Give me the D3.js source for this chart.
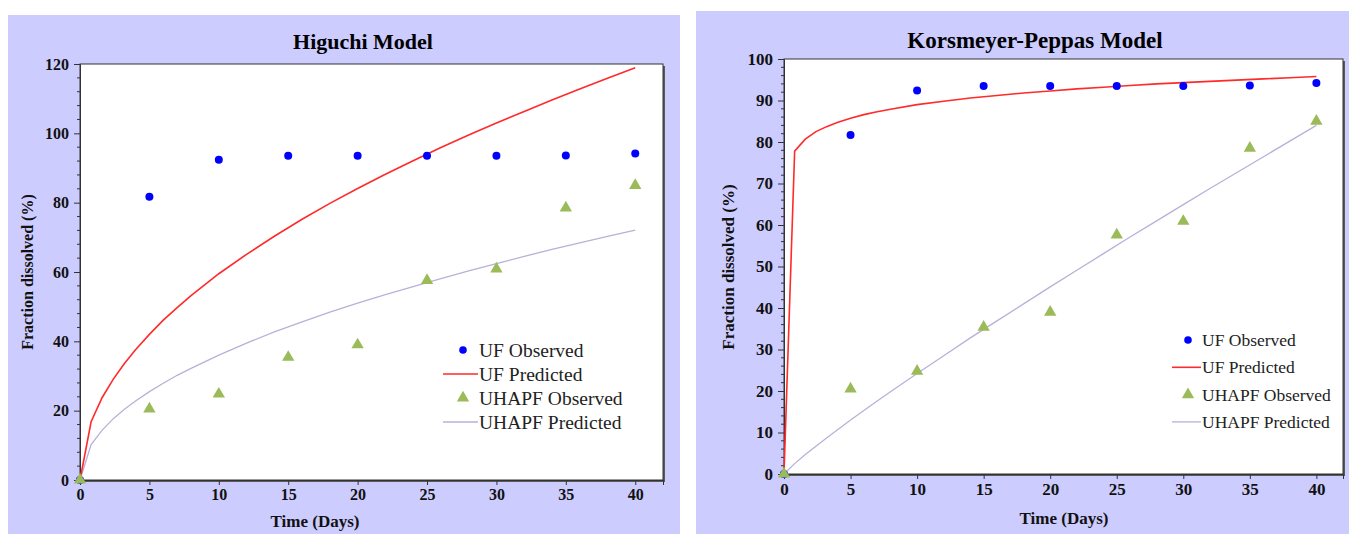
<!DOCTYPE html>
<html>
<head>
<meta charset="utf-8">
<script src="https://cdn.jsdelivr.net/npm/d3@7"></script>
<style>
  body { margin: 0; background: #ffffff; }
  svg { display: block; }
</style>
</head>
<body>
<svg id="chart" width="1349" height="534"></svg>
<script>
// ---- Data ----
const obsDays = [0, 5, 10, 15, 20, 25, 30, 35, 40];
const ufObserved = [0, 81.7, 92.4, 93.5, 93.5, 93.5, 93.5, 93.6, 94.2];
const uhapfObserved = [0, 20.5, 24.8, 35.4, 39.0, 57.6, 60.9, 78.5, 85.0];

const predDays = [0, 0.8, 1.6, 2.4, 3.2, 4, 5, 6, 7, 8, 10, 12, 14, 16, 18, 20, 22, 24, 26, 28, 30, 32, 34, 36, 38, 40];
const higuchiUF = [0, 16.8, 23.8, 29.1, 33.6, 37.6, 42.0, 46.1, 49.7, 53.2, 59.5, 65.1, 70.3, 75.2, 79.8, 84.1, 88.2, 92.1, 95.9, 99.5, 103.0, 106.3, 109.6, 112.8, 115.9, 118.9];
const higuchiUHAPF = [0, 10.2, 14.4, 17.7, 20.4, 22.8, 25.5, 27.9, 30.2, 32.2, 36.0, 39.5, 42.7, 45.6, 48.4, 51.0, 53.5, 55.8, 58.1, 60.3, 62.4, 64.5, 66.5, 68.4, 70.3, 72.1];
const kpUF = [0, 77.8, 80.7, 82.5, 83.7, 84.7, 85.7, 86.6, 87.3, 87.9, 89.0, 89.8, 90.6, 91.2, 91.8, 92.3, 92.8, 93.2, 93.6, 94.0, 94.3, 94.6, 94.9, 95.2, 95.5, 95.8];
const kpUHAPF = [0, 2.5, 4.7, 6.7, 8.7, 10.6, 13.0, 15.3, 17.6, 19.8, 24.2, 28.5, 32.8, 36.9, 41.0, 45.1, 49.1, 53.1, 57.1, 61.0, 64.9, 68.8, 72.6, 76.4, 80.2, 84.0];

const xTicks = [0, 5, 10, 15, 20, 25, 30, 35, 40];
const higuchiYTicks = [0, 20, 40, 60, 80, 100, 120];
const kpYTicks = [0, 10, 20, 30, 40, 50, 60, 70, 80, 90, 100];
const legendLabels = ["UF Observed", "UF Predicted", "UHAPF Observed", "UHAPF Predicted"];

// ---- Styles ----
const BG = "#ccccff";
const BLUE = "#0000ff";
const RED = "#ff2a2a";
const GREEN = "#9bbb59";
const LAV = "#b9b0d8";
const SERIF = "'Liberation Serif', 'Times New Roman', serif";

const svg = d3.select("#chart");

function drawPanel(cfg) {
  const g = svg.append("g");
  const F = cfg.fonts;
  g.append("rect").attr("x", cfg.panel[0]).attr("y", cfg.panel[1])
    .attr("width", cfg.panel[2]).attr("height", cfg.panel[3]).attr("fill", BG);

  const x = d3.scaleLinear().domain([0, 42]).range([cfg.plot.left, cfg.plot.right]);
  const y = d3.scaleLinear().domain([0, cfg.yMax]).range([cfg.plot.bottom, cfg.plot.top]);

  const pw = cfg.plot.right - cfg.plot.left, ph = cfg.plot.bottom - cfg.plot.top;
  g.append("rect").attr("x", cfg.plot.left + 2).attr("y", cfg.plot.top + 2)
    .attr("width", pw).attr("height", ph).attr("fill", "#5a5a5a");
  g.append("rect").attr("x", cfg.plot.left).attr("y", cfg.plot.top)
    .attr("width", pw).attr("height", ph).attr("fill", "#ffffff")
    .attr("stroke", "#333").attr("stroke-width", 1);

  g.append("text").attr("x", cfg.titleX).attr("y", cfg.titleY)
    .attr("text-anchor", "middle").attr("font-family", SERIF)
    .attr("font-weight", "bold").attr("font-size", F.title).attr("fill", "#000")
    .text(cfg.title);

  const xa = g.append("g").attr("transform", `translate(0,${cfg.plot.bottom})`)
    .call(d3.axisBottom(x).tickValues(xTicks).tickSize(5).tickPadding(4).tickFormat(d3.format("d")));
  xa.attr("font-family", SERIF);
  xa.select(".domain").attr("stroke", "#333");
  xa.selectAll(".tick line").attr("stroke", "#333");
  xa.selectAll("text").attr("font-family", SERIF).attr("font-weight", "bold")
    .attr("font-size", F.tick).attr("fill", "#111");

  const minor = d3.range(0, cfg.yMax + 0.001, cfg.yMinor).filter(v => !cfg.yTicks.includes(v));
  const ya = g.append("g").attr("transform", `translate(${cfg.plot.left},0)`)
    .call(d3.axisLeft(y).tickValues(cfg.yTicks).tickSize(6).tickPadding(5).tickFormat(d3.format("d")));
  ya.attr("font-family", SERIF);
  ya.select(".domain").attr("stroke", "#333");
  ya.selectAll(".tick line").attr("stroke", "#333");
  ya.selectAll("text").attr("font-family", SERIF).attr("font-weight", "bold")
    .attr("font-size", F.tick).attr("fill", "#111");
  g.append("g").selectAll("line").data(minor).join("line")
    .attr("x1", cfg.plot.left - 3).attr("x2", cfg.plot.left)
    .attr("y1", d => y(d)).attr("y2", d => y(d))
    .attr("stroke", "#333").attr("stroke-width", 1);

  g.append("text").attr("x", cfg.xLabelX).attr("y", cfg.xLabelY)
    .attr("text-anchor", "middle").attr("font-family", SERIF)
    .attr("font-weight", "bold").attr("font-size", F.xaxis).attr("fill", "#111")
    .text("Time (Days)");
  g.append("text").attr("transform", `translate(${cfg.yLabelX},${cfg.yLabelY}) rotate(-90)`)
    .attr("text-anchor", "middle").attr("font-family", SERIF)
    .attr("font-weight", "bold").attr("font-size", F.yaxis).attr("fill", "#111")
    .text("Fraction dissolved (%)");

  const line = d3.line().x(d => x(d[0])).y(d => y(d[1]));
  g.append("path").datum(predDays.map((t, i) => [t, cfg.uhapfPred[i]]))
    .attr("d", line).attr("fill", "none").attr("stroke", LAV).attr("stroke-width", 1.3);
  g.append("path").datum(predDays.map((t, i) => [t, cfg.ufPred[i]]))
    .attr("d", line).attr("fill", "none").attr("stroke", RED).attr("stroke-width", 1.6);

  g.append("g").selectAll("circle").data(obsDays.map((t, i) => [t, ufObserved[i]])).join("circle")
    .attr("cx", d => x(d[0])).attr("cy", d => y(d[1])).attr("r", 4).attr("fill", BLUE);
  const tri = d3.symbol().type(d3.symbolTriangle).size(66);
  g.append("g").selectAll("path").data(obsDays.map((t, i) => [t, uhapfObserved[i]])).join("path")
    .attr("transform", d => `translate(${x(d[0])},${y(d[1])})`)
    .attr("d", tri).attr("fill", GREEN);

  const L = cfg.legend;
  legendLabels.forEach((lab, i) => {
    const yy = L.y + i * L.dy;
    if (i === 0) {
      g.append("circle").attr("cx", L.marker).attr("cy", yy).attr("r", 3.8).attr("fill", BLUE);
    } else if (i === 2) {
      g.append("path").attr("transform", `translate(${L.marker},${yy})`).attr("d", tri).attr("fill", GREEN);
    } else {
      g.append("line").attr("x1", L.lineX0).attr("x2", L.textX - 1).attr("y1", yy).attr("y2", yy)
        .attr("stroke", i === 1 ? RED : LAV).attr("stroke-width", i === 1 ? 1.6 : 1.3);
    }
    g.append("text").attr("x", L.textX).attr("y", yy).attr("dy", "0.35em")
      .attr("font-family", SERIF).attr("font-size", F.legend).attr("fill", "#222").text(lab);
  });
}

drawPanel({
  panel: [8, 15, 672, 519],
  plot: { left: 80, right: 663, top: 64, bottom: 480 },
  yMax: 120, yTicks: higuchiYTicks, yMinor: 4,
  fonts: { title: 22, tick: 16, xaxis: 17, yaxis: 16, legend: 19.5 },
  title: "Higuchi Model", titleX: 363, titleY: 49,
  xLabelX: 315, xLabelY: 527, yLabelX: 33, yLabelY: 272,
  ufPred: higuchiUF, uhapfPred: higuchiUHAPF,
  legend: { marker: 463, textX: 479, lineX0: 443, y: 350, dy: 24 }
});

drawPanel({
  panel: [696, 11, 653, 523],
  plot: { left: 784, right: 1343, top: 59, bottom: 474 },
  yMax: 100, yTicks: kpYTicks, yMinor: 2,
  fonts: { title: 23, tick: 17, xaxis: 17, yaxis: 17, legend: 17.5 },
  title: "Korsmeyer-Peppas Model", titleX: 1035, titleY: 48,
  xLabelX: 1064, xLabelY: 524, yLabelX: 734, yLabelY: 267,
  ufPred: kpUF, uhapfPred: kpUHAPF,
  legend: { marker: 1188, textX: 1202, lineX0: 1172, y: 340, dy: 27.3 }
});
</script>
</body>
</html>
